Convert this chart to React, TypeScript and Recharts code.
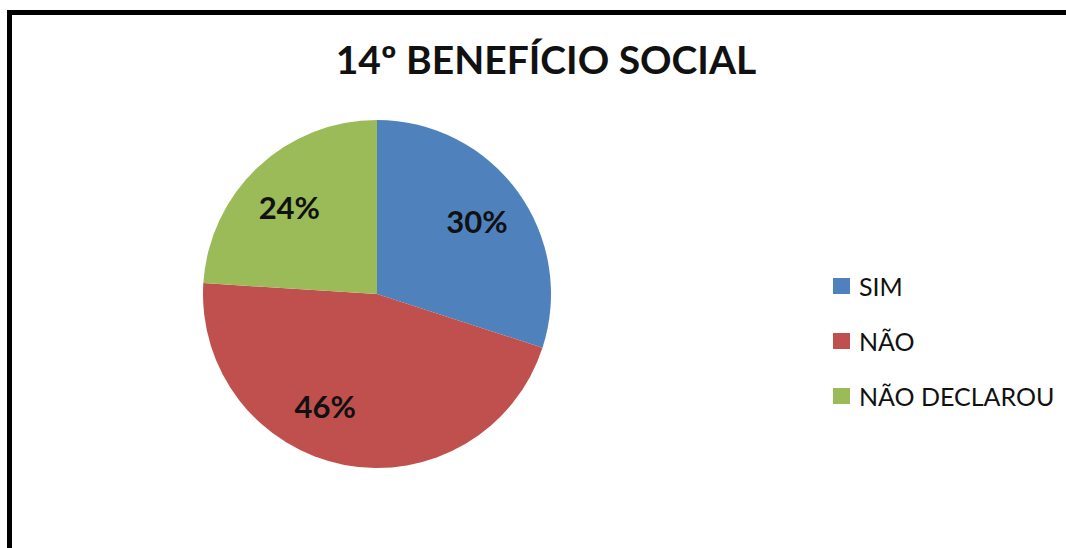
import { PieChart, Pie, Cell, Legend } from 'recharts';

const categories = ['SIM', 'NÃO', 'NÃO DECLAROU'];
const shares = [30, 46, 24];
const colors = ['#4F81BD', '#C0504D', '#9BBB59'];

const data = categories.map((name, i) => ({ name, value: shares[i] }));

const RAD = Math.PI / 180;
const FONT = 'Lato, "Open Sans", sans-serif';
// Excel "best fit" nudges the big slice's label off its bisector
const labelTurn = [0, -14, 2];

const renderLabel = (props: any) => {
  const { cx, cy, midAngle, outerRadius, value, index } = props;
  const r = outerRadius * 0.71;
  const a = (midAngle + (labelTurn[index] || 0)) * RAD;
  const x = cx + r * Math.cos(-a);
  const y = cy + r * Math.sin(-a);
  return (
    <text x={ x } y={ y } textAnchor="middle" dominantBaseline="central"
      fontFamily={ FONT } fontWeight={ 700 } fontSize={ 31 } fill="#111">
      { `${value}%` }
    </text>
  );
};

const renderLegend = () => (
  <div>
    { categories.map((name, i) => (
      <div key={ name } style={ { display: 'flex', alignItems: 'center', height: 55 } }>
        <span style={ { width: 17, height: 16, background: colors[i], marginRight: 9 } } />
        <span style={ { fontFamily: FONT, fontSize: 25, color: '#111' } }>{ name }</span>
      </div>
    )) }
  </div>
);

const App = () => (
  <div style={ { position: 'absolute', left: 0, top: 0, width: 1066, height: 548, overflow: 'hidden', background: '#fff' } }>
    <div style={ {
      position: 'absolute', left: 7, top: 10, width: 1200, height: 700,
      border: '5px solid #000', boxSizing: 'border-box',
    } } />
    <div style={ {
      position: 'absolute', left: 0, width: 1092, top: 36, textAlign: 'center',
      fontFamily: FONT, fontWeight: 700, fontSize: 39, color: '#111',
    } }>
      14º BENEFÍCIO SOCIAL
    </div>
    <div style={ { position: 'absolute', left: 0, top: 0 } }>
      <PieChart width={ 1066 } height={ 548 } margin={ { top: 0, right: 0, bottom: 0, left: 0 } }>
        <Pie data={ data } dataKey="value" nameKey="name" cx={ 377 } cy={ 294 }
          outerRadius={ 174 } startAngle={ 90 } endAngle={ -270 } stroke="none"
          label={ renderLabel } labelLine={ false } isAnimationActive={ false }>
          { data.map((d, i) => <Cell key={ d.name } fill={ colors[i] } />) }
        </Pie>
        <Legend content={ renderLegend } layout="vertical"
          wrapperStyle={ { left: 833, top: 258, width: 240 } } />
      </PieChart>
    </div>
  </div>
);

export default App;
